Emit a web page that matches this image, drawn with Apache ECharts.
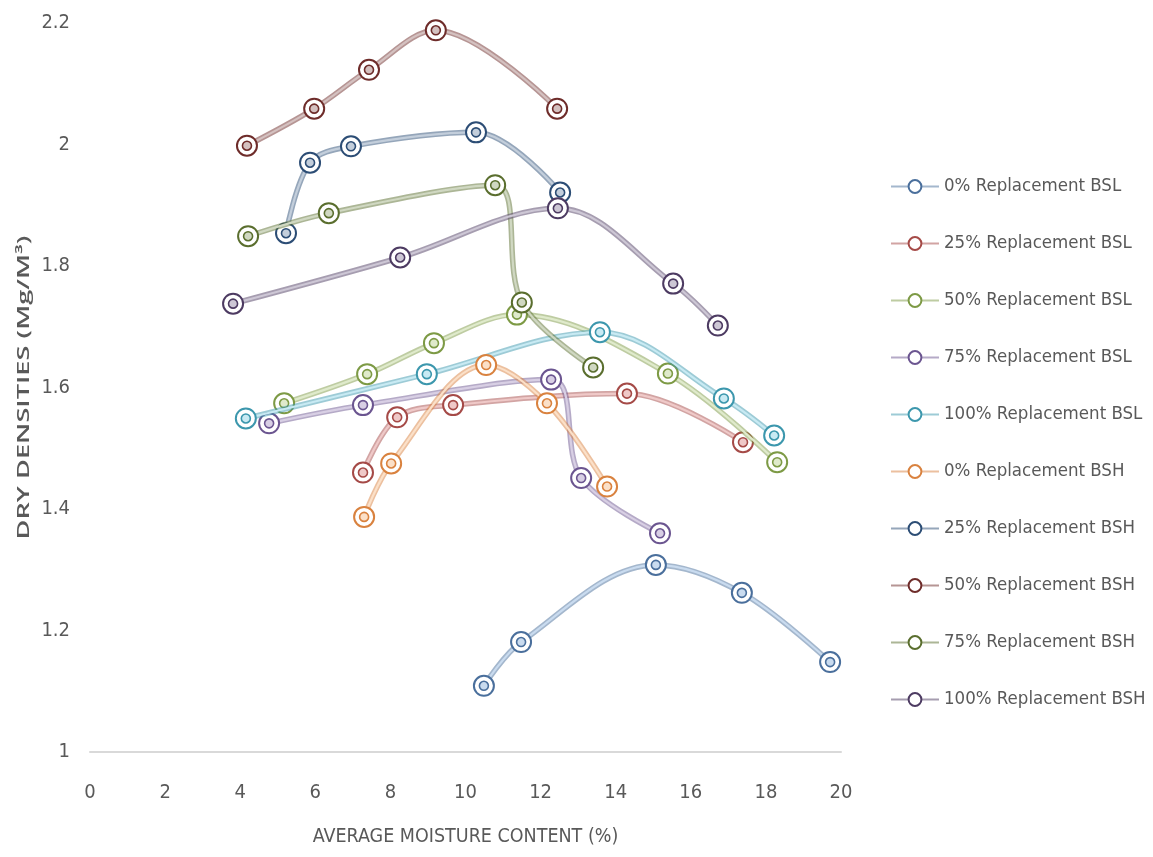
<!DOCTYPE html>
<html>
<head>
<meta charset="utf-8">
<script src="https://cdn.jsdelivr.net/npm/echarts@6/dist/echarts.min.js"></script>
<style>
  html, body { margin: 0; padding: 0; background: #ffffff; }
  #chart { width: 1153px; height: 857px; }
</style>
</head>
<body>
<div id="chart"></div>
<script>
// Compaction curves: [average moisture content (%), dry density (Mg/M³)]
const seriesNames = [
  '0% Replacement BSL', '25% Replacement BSL', '50% Replacement BSL',
  '75% Replacement BSL', '100% Replacement BSL', '0% Replacement BSH',
  '25% Replacement BSH', '50% Replacement BSH', '75% Replacement BSH',
  '100% Replacement BSH'
];
const bsl0 = [[10.49, 1.109], [11.48, 1.181], [15.07, 1.308], [17.36, 1.262], [19.71, 1.148]];
const bsl25 = [[7.27, 1.460], [8.18, 1.551], [9.67, 1.571], [14.30, 1.590], [17.39, 1.510]];
const bsl50 = [[5.17, 1.574], [7.38, 1.622], [9.16, 1.673], [11.37, 1.720], [15.39, 1.623], [18.30, 1.477]];
const bsl75 = [[4.77, 1.541], [7.27, 1.571], [12.28, 1.613], [13.08, 1.451], [15.18, 1.360]];
const bsl100 = [[4.15, 1.549], [8.97, 1.622], [13.58, 1.691], [16.88, 1.582], [18.22, 1.521]];
const bsh0 = [[7.30, 1.387], [8.02, 1.475], [10.55, 1.637], [12.17, 1.574], [13.77, 1.437]];
const bsh25 = [[5.22, 1.854], [5.86, 1.970], [6.95, 1.997], [10.28, 2.020], [12.52, 1.921]];
const bsh50 = [[4.18, 1.998], [5.97, 2.059], [7.43, 2.123], [9.21, 2.188], [12.44, 2.059]];
const bsh75 = [[4.21, 1.849], [6.36, 1.887], [10.79, 1.933], [11.50, 1.740], [13.40, 1.633]];
const bsh100 = [[3.81, 1.738], [8.26, 1.814], [12.46, 1.895], [15.53, 1.771], [16.72, 1.702]];
const seriesData = [bsl0, bsl25, bsl50, bsl75, bsl100, bsh0, bsh25, bsh50, bsh75, bsh100];

const xTicks = [0, 2, 4, 6, 8, 10, 12, 14, 16, 18, 20];
const yTicks = [1, 1.2, 1.4, 1.6, 1.8, 2, 2.2];
const xTitle = 'AVERAGE MOISTURE CONTENT (%)';
const yTitle = 'DRY DENSITIES (Mg/M³)';

// line colour, ring colour, centre fill
const palette = [
  ['#9fbde0', '#4a6f9c', '#c9dbef'],
  ['#e0a3a1', '#a54a47', '#efc9c8'],
  ['#c6d9a3', '#7d9a45', '#dfeacb'],
  ['#b8a9cc', '#6b5590', '#d8cfe4'],
  ['#9ed6e6', '#3c97ad', '#c8eaf3'],
  ['#f8c49d', '#d9823f', '#fbe0c8'],
  ['#8fa1b8', '#2c4d75', '#c3cedb'],
  ['#b39291', '#6e2c2a', '#d4c1c0'],
  ['#a9b78f', '#5a6e2e', '#d0d8c2'],
  ['#a39ab0', '#4d3b62', '#cdc7d5']
];

const font = "'Liberation Sans Narrow', 'DejaVu Sans Condensed', 'Open Sans', sans-serif";
const series = [];
seriesData.forEach(function (data, i) {
  const c = palette[i];
  // wide tinted band with dark ring markers
  series.push({
    name: seriesNames[i],
    type: 'line',
    data: data,
    smooth: 0.35,
    symbol: 'circle',
    symbolSize: 20,
    lineStyle: { color: c[1], width: 5.5, opacity: 0.5 },
    itemStyle: { color: '#ffffff', borderColor: c[1], borderWidth: 2 },
    z: 2 + i
  });
  // light core of the double line and inner ring of each marker
  series.push({
    name: seriesNames[i] + ' core',
    type: 'line',
    data: data,
    smooth: 0.35,
    symbol: 'circle',
    symbolSize: 9,
    silent: true,
    lineStyle: { color: c[2], width: 2.2, opacity: 1 },
    itemStyle: { color: c[2], borderColor: c[1], borderWidth: 1.6 },
    z: 2 + i
  });
});

const gridLeft = 90, gridTop = 23, gridWidth = 751, gridHeight = 729;

const chart = echarts.init(document.getElementById('chart'), null, { renderer: 'canvas' });
chart.setOption({
  animation: false,
  backgroundColor: '#ffffff',
  textStyle: { fontFamily: font, color: '#595959' },
  grid: { left: gridLeft, top: gridTop, width: gridWidth, height: gridHeight },
  legend: {
    orient: 'vertical',
    left: 885,
    top: 172,
    data: seriesNames,
    itemWidth: 48,
    itemHeight: 16,
    itemGap: 38,
    textStyle: { fontFamily: font, fontSize: 18.5, color: '#595959' }
  },
  // vertical axis title, stretched along its length
  graphic: [{
    type: 'text',
    x: 24,
    y: gridTop + gridHeight / 2,
    rotation: Math.PI / 2,
    scaleX: 1.6,
    style: {
      text: yTitle,
      font: "600 17px 'Open Sans', 'Noto Sans', sans-serif",
      fill: '#595959',
      align: 'center',
      verticalAlign: 'middle'
    }
  }],
  xAxis: {
    type: 'value',
    min: xTicks[0],
    max: xTicks[xTicks.length - 1],
    interval: 2,
    name: xTitle,
    nameLocation: 'middle',
    nameGap: 75,
    nameTextStyle: { fontFamily: font, fontSize: 19.5, color: '#595959' },
    axisLine: { lineStyle: { color: '#d9d9d9', width: 2 } },
    axisTick: { show: false },
    splitLine: { show: false },
    axisLabel: { margin: 31, fontSize: 20, color: '#595959', fontFamily: font }
  },
  yAxis: {
    type: 'value',
    min: yTicks[0],
    max: yTicks[yTicks.length - 1],
    interval: 0.2,
    axisLine: { show: false },
    axisTick: { show: false },
    splitLine: { show: false },
    axisLabel: {
      margin: 20, fontSize: 20, color: '#595959', fontFamily: font,
      formatter: function (v) { return String(Math.round(v * 10) / 10); }
    }
  },
  series: series
});
</script>
</body>
</html>
